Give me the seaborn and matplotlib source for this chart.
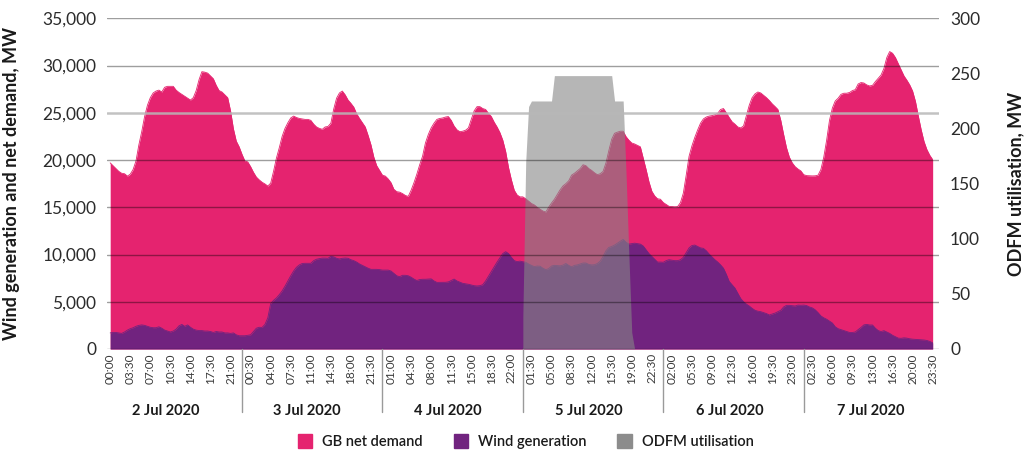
import numpy as np
import pandas as pd
import matplotlib.pyplot as plt
import matplotlib.transforms as mtransforms
from matplotlib.patches import Patch
import seaborn as sns

days = ["2 Jul 2020", "3 Jul 2020", "4 Jul 2020", "5 Jul 2020", "6 Jul 2020", "7 Jul 2020"]

# GB net demand, MW (half-hourly)
demand_2jul = [19700, 19400, 19100, 18800, 18600, 18550, 18300, 18500, 19000, 19900, 21600, 23000,
               24600, 25800, 26600, 27100, 27300, 27400, 27200, 27700, 27800, 27800, 27800, 27400,
               27150, 26950, 26750, 26550, 26350, 26600, 27350, 28500, 29350, 29300, 29200, 28900,
               28600, 27900, 27350, 27200, 26900, 26600, 25200, 23300, 22000, 21400, 20600, 19900]
demand_3jul = [19800, 19300, 18700, 18200, 17900, 17650, 17470, 17250, 17550, 18800, 20200, 21300,
               22500, 23350, 23950, 24450, 24650, 24500, 24400, 24350, 24300, 24300, 24200, 23800,
               23500, 23350, 23250, 23500, 23550, 23900, 25400, 26550, 27100, 27300, 26900, 26350,
               26000, 25600, 24900, 24400, 23950, 23500, 22600, 21600, 20300, 19400, 18900, 18400]
demand_4jul = [18300, 18000, 17600, 16900, 16650, 16600, 16450, 16250, 16150, 16800, 17600, 18500,
               19500, 20400, 21800, 22700, 23400, 23900, 24300, 24400, 24450, 24550, 24600, 24200,
               23600, 23200, 23000, 23050, 23150, 23400, 24300, 25200, 25650, 25650, 25450, 25350,
               24950, 24600, 24000, 23500, 22900, 22100, 20900, 19200, 17900, 16800, 16300, 16100]
demand_5jul = [16100, 15900, 15650, 15400, 15250, 15000, 14800, 14600, 14500, 15000, 15450, 15850,
               16350, 16850, 17260, 17500, 17800, 18400, 18600, 18850, 19100, 19500, 19400, 19100,
               18900, 18650, 18450, 18550, 18800, 19700, 21000, 22200, 22830, 22950, 23050, 23050,
               22480, 22100, 21800, 21700, 21550, 21400, 20200, 19000, 17700, 16700, 16200, 15900]
demand_6jul = [15850, 15500, 15300, 15100, 15070, 15050, 15070, 15500, 16500, 18400, 20400, 21500,
               22400, 23190, 23900, 24350, 24550, 24650, 24700, 24800, 24950, 25350, 25450, 25000,
               24500, 24050, 23800, 23500, 23400, 23600, 24700, 25800, 26600, 27000, 27200, 27100,
               26850, 26600, 26300, 25950, 25660, 25350, 24200, 22700, 21300, 20300, 19700, 19300]
demand_7jul = [19050, 18850, 18450, 18350, 18330, 18320, 18330, 18400, 19000, 20300, 22100, 24200,
               25500, 26250, 26540, 26950, 27070, 27070, 27150, 27350, 27450, 28050, 28200, 28150,
               27950, 27840, 27900, 28300, 28650, 29000, 29700, 30850, 31480, 31300, 30850, 30200,
               29540, 28900, 28450, 27950, 27300, 26200, 24650, 23200, 21950, 21100, 20500, 20050]

# Wind generation, MW (half-hourly)
wind_2jul = [1700, 1750, 1750, 1700, 1650, 1800, 2000, 2150, 2250, 2400, 2500, 2550,
             2500, 2400, 2300, 2250, 2250, 2350, 2200, 2000, 1900, 1800, 1900, 2100,
             2450, 2600, 2400, 2550, 2300, 2100, 2000, 1950, 1950, 1900, 1900, 1850,
             1750, 1850, 1800, 1800, 1700, 1700, 1650, 1700, 1500, 1400, 1400, 1400]
wind_3jul = [1450, 1500, 1850, 2200, 2300, 2280, 2600, 3300, 4800, 5150, 5400, 5750,
             6150, 6650, 7200, 7750, 8250, 8650, 8900, 9050, 9070, 9070, 9070, 9350,
             9500, 9560, 9620, 9620, 9600, 9800, 9750, 9600, 9530, 9600, 9630, 9600,
             9450, 9350, 9200, 9000, 8850, 8700, 8550, 8430, 8430, 8430, 8400, 8350]
wind_4jul = [8350, 8350, 8250, 8000, 7750, 7650, 7800, 7800, 7750, 7600, 7400, 7250,
             7350, 7380, 7380, 7400, 7420, 7200, 7050, 7050, 7060, 7060, 7100, 7250,
             7400, 7200, 7080, 6950, 6900, 6850, 6780, 6700, 6670, 6700, 6800, 7200,
             7700, 8200, 8700, 9200, 9650, 10100, 10300, 10100, 9700, 9350, 9250, 9300]
wind_5jul = [9230, 9180, 9000, 8850, 8720, 8780, 8760, 8550, 8400, 8500, 8780, 8850,
             8820, 8800, 8880, 9050, 8850, 8700, 8850, 8900, 9000, 9100, 9100, 8950,
             8900, 8920, 9050, 9300, 9800, 10400, 10750, 10850, 11000, 11200, 11400, 11600,
             11300, 11100, 11150, 11200, 11150, 11100, 10900, 10500, 10100, 9800, 9500, 9200]
wind_6jul = [9200, 9180, 9350, 9450, 9400, 9350, 9350, 9450, 9700, 10200, 10700, 10950,
             11000, 10850, 10700, 10650, 10400, 10050, 9750, 9450, 9200, 8900, 8550, 7900,
             7150, 6800, 6450, 5900, 5350, 5000, 4750, 4550, 4300, 4100, 4000, 3950,
             3850, 3750, 3600, 3700, 3800, 3950, 4100, 4450, 4620, 4620, 4580, 4550]
wind_7jul = [4650, 4630, 4650, 4600, 4450, 4350, 4150, 3850, 3500, 3300, 3150, 2950,
             2750, 2350, 2150, 2050, 1960, 1850, 1750, 1750, 1800, 2050, 2280, 2550,
             2600, 2540, 2540, 2200, 1950, 1850, 1940, 1800, 1650, 1450, 1300, 1150,
             1130, 1180, 1150, 1080, 1040, 1020, 1000, 980, 950, 900, 800, 650]

# ODFM utilisation on 5 Jul, MW (right axis)
odfm_5jul = [30, 170, 220, 225, 225, 225, 225, 225, 225, 225, 225, 248,
             248, 248, 248, 248, 248, 248, 248, 248, 248, 248, 248, 248,
             248, 248, 248, 248, 248, 248, 248, 248, 225, 225, 225, 225,
             160, 85, 15, 0, 0, 0, 0, 0, 0, 0, 0, 0]

pink = "#e5236f"
purple = "#71237f"
odfm_col = "#868686"

net_demand = demand_2jul + demand_3jul + demand_4jul + demand_5jul + demand_6jul + demand_7jul
wind = wind_2jul + wind_3jul + wind_4jul + wind_5jul + wind_6jul + wind_7jul

times = pd.date_range("2020-07-02 00:00", periods=len(net_demand), freq="30min")
df = pd.DataFrame({"time": times, "demand": net_demand, "wind": wind})
df["idx"] = np.arange(len(df))

odfm = df[df["time"].dt.day == 5][["idx"]].copy()
odfm["odfm"] = odfm_5jul

sns.set_style("white")
plt.rcParams["font.family"] = ["Lato", "DejaVu Sans"]

fig = plt.figure(figsize=(10.29, 4.54), dpi=100)
ax = fig.add_axes([0.1043, 0.2313, 0.8082, 0.7284])

ax.fill_between(df["idx"], 0, df["demand"], color=pink, lw=0)
sns.lineplot(data=df, x="idx", y="demand", ax=ax, color=pink, lw=0.6)
ax.fill_between(df["idx"], 0, df["wind"], color=purple, lw=0)
sns.lineplot(data=df, x="idx", y="wind", ax=ax, color=purple, lw=0.6)

ax.set_xlim(-1, 289.2)
ax.set_ylim(0, 35000)

ax2 = ax.twinx()
ax2.fill_between(odfm["idx"], 0, odfm["odfm"], color=odfm_col, alpha=0.6, lw=0)

# gridlines on top of all areas
gtrans = mtransforms.blended_transform_factory(ax2.transAxes, ax.transData)
for v in range(0, 35001, 5000):
    if v == 25000:
        ax2.plot([0, 1], [v, v], transform=gtrans, color="#b8b8b8", alpha=0.85, lw=1.8)
    else:
        ax2.plot([0, 1], [v, v], transform=gtrans, color="black", alpha=0.38, lw=1)
ax2.set_ylim(0, 300)
ax2.set_xlim(-1, 289.2)

for a in (ax, ax2):
    for s in a.spines.values():
        s.set_visible(False)

yt = list(range(0, 35001, 5000))
ax.set_yticks(yt)
ax.set_yticklabels([f"{v:,}" for v in yt])
ax.tick_params(axis="y", length=0, pad=8, labelsize=12.5, labelcolor="#2b2b2b")
ax2.set_yticks(range(0, 301, 50))
ax2.tick_params(axis="y", length=0, pad=8, labelsize=12.5, labelcolor="#2b2b2b")

xt = df["idx"][::7]
ax.set_xticks(xt)
ax.set_xticklabels(df["time"][::7].dt.strftime("%H:%M"), rotation=90)
ax.tick_params(axis="x", length=0, pad=3, labelsize=8.5, labelcolor="#3a3a3a")
ax.set_xlabel("")

ax.set_ylabel("Wind generation and net demand, MW", fontsize=13, fontweight="bold", color="#1a1a1a")
ax.yaxis.set_label_coords(-0.105, 0.5)
ax2.set_ylabel("ODFM utilisation, MW", fontsize=13, fontweight="bold", color="#1a1a1a")
ax2.yaxis.set_label_coords(1.082, 0.5)

# day labels and separators (spaced as in the original category axis)
dtrans = mtransforms.blended_transform_factory(ax.transData, ax.transAxes)
for k, d in enumerate(days):
    ax.text(19.5 + 49.2 * k, -0.188, d, transform=dtrans, ha="center", va="center",
            fontsize=10.5, fontweight="bold", color="#1a1a1a")
    if k > 0:
        sx = 46 + 49 * (k - 1)
        ax.plot([sx, sx], [0, -0.19], transform=dtrans,
                color="#9a9a9a", lw=1, clip_on=False)

handles = [Patch(color=pink, label="GB net demand"),
           Patch(color=purple, label="Wind generation"),
           Patch(color="#8c8c8c", label="ODFM utilisation")]
fig.legend(handles=handles, loc="center", bbox_to_anchor=(0.511, 0.027), ncol=3, frameon=False,
           prop={"size": 10.5, "weight": "semibold"}, handlelength=1.0, handleheight=1.0,
           handletextpad=0.7, columnspacing=2.1, labelcolor="#1a1a1a")

fig.savefig("out.png", dpi=100)
